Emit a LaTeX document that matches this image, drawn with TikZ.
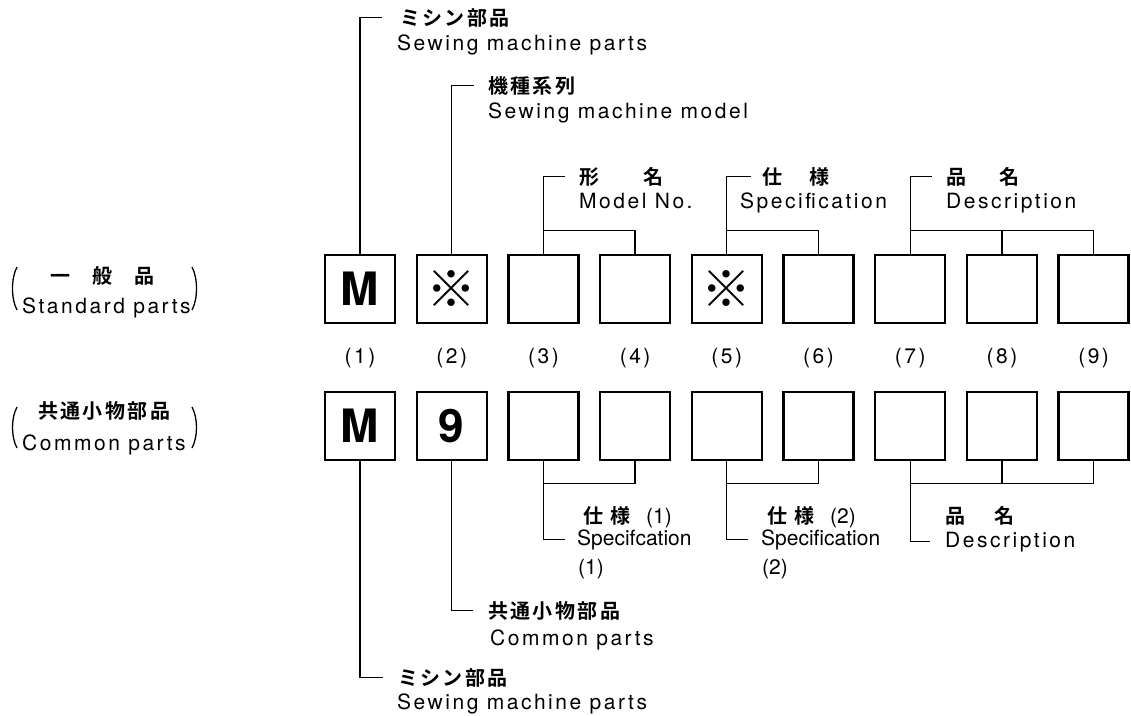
\documentclass[tikz,border=0pt]{standalone}
\usepackage{fontspec}
\setmainfont{TeX Gyre Heros}[LetterSpace=12]
\newfontfamily\narrowsans{TeX Gyre Heros}
\newfontfamily\jpfont{Noto Sans CJK JP Bold}[LetterSpace=12]
\newfontfamily\markfont{Noto Sans CJK JP}
\usetikzlibrary{positioning}
\newcommand{\partM}{{\narrowsans\bfseries\fontsize{46}{46}\selectfont M}}
\newcommand{\partnine}{{\narrowsans\bfseries\fontsize{46}{46}\selectfont 9}}
\newcommand{\refmark}{{\markfont\fontsize{50}{50}\selectfont ※}}
\newcommand{\smallnum}[1]{{\narrowsans\fontsize{21}{21}\selectfont(#1)}}
\tikzset{
  cell/.style={draw, line width=2.4pt, minimum width=70pt, minimum height=68pt, inner sep=0pt},
  txt/.style={anchor=base west, inner sep=0pt, font=\fontsize{21}{21}\selectfont},
  ntxt/.style={anchor=base west, inner sep=0pt, font=\narrowsans\fontsize{21}{21}\selectfont},
  jtxt/.style={anchor=base west, inner sep=0pt, font=\jpfont\fontsize{20}{20}\selectfont},
  idx/.style={anchor=base, inner sep=0pt, font=\fontsize{21}{21}\selectfont},
  link/.style={line width=1.3pt},
  lead/.style={line width=1.3pt, shorten >=14pt},
}
\begin{document}
\begin{tikzpicture}[x=1pt, y=-1pt]
  \useasboundingbox (0,0) rectangle (1131,715);
  % casillas de las dos filas y numeros
  \foreach \i/\ta/\tb in {1/\partM/\partM, 2/\refmark/\partnine, 3//, 4//, 5/\refmark/, 6//, 7//, 8//, 9//} {
    \pgfmathsetmacro{\xx}{360+(\i-1)*91.7}
    \node[cell] (s\i) at (\xx,289) {\ta};
    \node[cell] (c\i) at (\xx,426) {\tb};
    \node[idx] (n\i) at (\xx,363) {(\i)};
  }
  % textos de la izquierda
  \node[jtxt] (stdj) at (50,283) {一\hspace{22pt}般\hspace{22pt}品};
  \node[txt] (stde) at (22,313) {Standard parts};
  \node[jtxt] (comj) at (38,418) {共通小物部品};
  \node[txt] (come) at (22,450) {Common parts};
  \draw[link] (17,267) .. controls (11,278) and (11,299) .. (17,310);
  \draw[link] (192,267) .. controls (198,278) and (198,299) .. (192,310);
  \draw[link] (17,407) .. controls (11,418) and (11,437) .. (17,448);
  \draw[link] (192,407) .. controls (198,418) and (198,437) .. (192,448);
  % rotulos de arriba
  \node[jtxt] (sewj) at (400,25) {ミシン部品};
  \node[txt] (sewe) at (397,50) {Sewing machine parts};
  \node[jtxt] (modj) at (488,93) {機種系列};
  \node[txt] (mode) at (488,118) {Sewing machine model};
  \node[jtxt] (noj) at (579,184) {形\hspace{44pt}名};
  \node[txt] (noe) at (579,208) {Model No.};
  \node[jtxt] (spcj) at (762,184) {仕\hspace{27pt}様};
  \node[txt] (spce) at (740,208) {Specification};
  \node[jtxt] (desj) at (946,184) {品\hspace{33pt}名};
  \node[txt] (dese) at (946,208) {Description};
  \draw[lead, shorten >=18pt] (s1.north) |- (sewj.west);
  \draw[lead] (s2.north) |- (modj.west);
  \draw[lead] (s3.north) |- (noj.west);
  \draw[link] (s4.north) -- ++(0,-23) -| (s3.north);
  \draw[lead, shorten >=11pt] (s5.north) |- (spcj.west);
  \draw[link] (s6.north) -- ++(0,-23) -| (s5.north);
  \draw[lead] (s7.north) |- (desj.west);
  \draw[link] (s9.north) -- ++(0,-23) -| (s7.north);
  \draw[link] (s8.north) -- ++(0,-23);
  % rotulos de abajo
  \node[jtxt] (sp1j) at (583,523) {仕\hspace{7pt}様\hspace{16pt}\smallnum{1}};
  \node[ntxt] (sp1e) at (577,545) {Specifcation};
  \node[ntxt] (sp1n) at (578,574) {(1)};
  \node[jtxt] (sp2j) at (767,523) {仕\hspace{7pt}様\hspace{16pt}\smallnum{2}};
  \node[ntxt] (sp2e) at (761,545) {Specification};
  \node[ntxt] (sp2n) at (762,574) {(2)};
  \node[jtxt] (ds2j) at (945,523) {品\hspace{29pt}名};
  \node[txt] (ds2e) at (945,547) {Description};
  \node[jtxt] (cpj) at (488,618) {共通小物部品};
  \node[txt] (cpe) at (490,645) {Common parts};
  \node[jtxt] (mpj) at (398,685) {ミシン部品};
  \node[txt] (mpe) at (397,709) {Sewing machine parts};
  \draw[link] (c4.south) -- ++(0,22) -| (c3.south);
  \draw[lead, shorten >=12pt] (c3.south) |- (sp1e.west);
  \draw[link] (c6.south) -- ++(0,22) -| (c5.south);
  \draw[lead, shorten >=13pt] (c5.south) |- (sp2e.west);
  \draw[link] (c9.south) -- ++(0,22) -| (c7.south);
  \draw[link] (c8.south) -- ++(0,22);
  \draw[lead, shorten >=15pt] (c7.south) |- (ds2e.west);
  \draw[lead, shorten >=15pt] (c2.south) |- (cpj.west);
  \draw[lead, shorten >=15pt] (c1.south) |- (mpj.west);
\end{tikzpicture}
\end{document}
